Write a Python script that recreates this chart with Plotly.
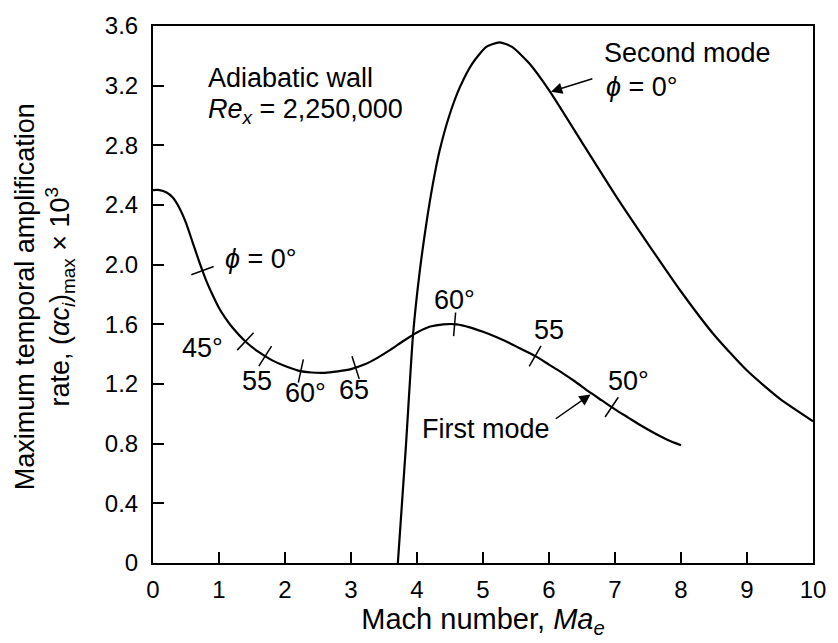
import numpy as np
import plotly.graph_objects as go

# ---- data ----
first_mach = [0.0, 0.1, 0.2, 0.3, 0.4, 0.5, 0.6, 0.7, 0.8, 0.9, 1.0, 1.1, 1.2, 1.4, 1.6, 1.8, 2.0, 2.2,
              2.4, 2.6, 2.8, 3.0, 3.2, 3.4, 3.6, 3.8, 4.0, 4.2, 4.4, 4.6, 4.8, 5.0, 5.2, 5.4, 5.6, 5.8,
              6.0, 6.2, 6.4, 6.6, 6.8, 7.0, 7.2, 7.4, 7.6, 7.8, 8.0]
first_rate = [2.50, 2.50, 2.485, 2.45, 2.38, 2.28, 2.15, 2.02, 1.90, 1.80, 1.71, 1.64, 1.58, 1.485, 1.415,
              1.36, 1.32, 1.29, 1.277, 1.275, 1.285, 1.30, 1.33, 1.375, 1.43, 1.49, 1.545, 1.585, 1.60,
              1.60, 1.58, 1.55, 1.515, 1.475, 1.43, 1.385, 1.33, 1.275, 1.215, 1.15, 1.09, 1.03, 0.975,
              0.92, 0.87, 0.825, 0.79]

second_mach = [3.71, 3.83, 3.94, 4.04, 4.15, 4.24, 4.34, 4.49, 4.65, 4.84, 5.05, 5.25, 5.44, 5.70, 6.0,
               6.5, 7.0, 7.5, 8.0, 8.5, 9.0, 9.5, 10.0]
second_rate = [0.0, 0.77, 1.53, 1.95, 2.30, 2.54, 2.76, 3.00, 3.19, 3.35, 3.46, 3.49, 3.46, 3.35, 3.17,
               2.82, 2.47, 2.14, 1.82, 1.53, 1.29, 1.10, 0.95]

angle_mach = [0.75, 1.40, 1.70, 2.24, 3.07, 4.57, 5.79, 6.95]
angle_rate = [1.96, 1.485, 1.387, 1.287, 1.31, 1.60, 1.387, 1.045]
angle_text = ["<i>\u03d5</i> = 0\u00b0", "45\u00b0", "55", "60\u00b0", "65", "60\u00b0", "55", "50\u00b0"]

x_ticks = list(range(0, 11))
y_ticks = [0, 0.4, 0.8, 1.2, 1.6, 2.0, 2.4, 2.8, 3.2, 3.6]
y_tick_text = ["0", "0.4", "0.8", "1.2", "1.6", "2.0", "2.4", "2.8", "3.2", "3.6"]

FONT = "Liberation Sans, Arial, Helvetica, sans-serif"
ANN = 27

# figure geometry
W, H = 838, 643
ML, MR, MT, MB = 153, 23, 15, 80
px_per_x = (W - ML - MR) / 10.0
px_per_y = (H - MT - MB) / 3.6

# tick-mark orientation perpendicular to the first-mode curve
fm = np.array(first_mach)
fr = np.array(first_rate)
slope = np.gradient(fr, fm)
tick_slope = np.interp(angle_mach, fm, slope)
tick_angle = np.degrees(np.arctan2(-tick_slope * px_per_y, px_per_x))

fig = go.Figure()
fig.add_trace(go.Scatter(x=first_mach, y=first_rate, mode="lines",
                         line=dict(color="black", width=2.2, shape="spline", smoothing=0.6),
                         hoverinfo="skip", showlegend=False))
fig.add_trace(go.Scatter(x=second_mach, y=second_rate, mode="lines",
                         line=dict(color="black", width=2.2, shape="spline", smoothing=0.6),
                         hoverinfo="skip", showlegend=False))
fig.add_trace(go.Scatter(x=angle_mach, y=angle_rate, mode="markers",
                         marker=dict(symbol="line-ns", size=17, angle=list(tick_angle),
                                     line=dict(color="black", width=1.5)),
                         hoverinfo="skip", showlegend=False))

# angle labels (label positions in data coordinates)
label_pos = [(1.63, 2.04), (0.75, 1.44), (1.58, 1.22), (2.31, 1.14), (3.05, 1.16),
             (4.57, 1.76), (6.00, 1.56), (7.21, 1.22)]
for (lx, ly), t in zip(label_pos, angle_text):
    fig.add_annotation(x=lx, y=ly, text=t, showarrow=False,
                       font=dict(size=ANN, color="black", family=FONT))

# text blocks
fig.add_annotation(x=0.81, y=3.25, text="Adiabatic wall", showarrow=False, xanchor="left",
                   font=dict(size=ANN, color="black", family=FONT))
fig.add_annotation(x=0.81, y=3.03, text="<i>Re<sub>x</sub></i> = 2,250,000", showarrow=False,
                   xanchor="left", font=dict(size=ANN, color="black", family=FONT))
fig.add_annotation(x=6.81, y=3.42, text="Second mode", showarrow=False, xanchor="left",
                   font=dict(size=ANN, color="black", family=FONT))
fig.add_annotation(x=6.83, y=3.19, text="<i>\u03d5</i> = 0\u00b0", showarrow=False, xanchor="left",
                   font=dict(size=ANN, color="black", family=FONT))
fig.add_annotation(x=5.05, y=0.90, text="First mode", showarrow=False,
                   font=dict(size=ANN, color="black", family=FONT))

# arrows
fig.add_annotation(x=6.03, y=3.16, ax=6.68, ay=3.25, xref="x", yref="y", axref="x", ayref="y",
                   showarrow=True, arrowhead=2, arrowsize=1.5, arrowwidth=1.5, arrowcolor="black", text="")
fig.add_annotation(x=6.63, y=1.13, ax=6.08, ay=0.96, xref="x", yref="y", axref="x", ayref="y",
                   showarrow=True, arrowhead=2, arrowsize=1.5, arrowwidth=1.5, arrowcolor="black", text="")

fig.update_layout(
    width=W, height=H,
    margin=dict(l=ML, r=MR, t=MT, b=MB),
    paper_bgcolor="white", plot_bgcolor="white",
    font=dict(family=FONT, color="black", size=24),
    showlegend=False,
)
fig.update_xaxes(range=[0, 10], tickmode="array", tickvals=x_ticks, ticktext=[str(v) for v in x_ticks],
                 ticks="inside", ticklen=11, tickwidth=1.5, tickcolor="black",
                 showline=True, linecolor="black", linewidth=2, mirror=True, showgrid=False, zeroline=False,
                 tickfont=dict(size=24), ticklabelstandoff=4,
                 title=dict(text="Mach number, <i>Ma<sub>e</sub></i>", font=dict(size=29), standoff=2))
fig.update_yaxes(range=[0, 3.6], tickmode="array", tickvals=y_ticks, ticktext=y_tick_text,
                 ticks="inside", ticklen=11, tickwidth=1.5, tickcolor="black",
                 showline=True, linecolor="black", linewidth=2,
                 mirror=True, showgrid=False, zeroline=False, tickfont=dict(size=24), ticklabelstandoff=8)

fig.add_annotation(xref="paper", yref="paper", x=-0.165, y=0.495, xanchor="center", yanchor="middle",
                   text="Maximum temporal amplification<br>rate, (<i>\u03b1c<sub>i</sub></i>)<sub>max</sub> \u00d7 10<sup>3</sup>",
                   textangle=-90, showarrow=False, font=dict(size=27, color="black", family=FONT))

fig.write_html("out.html")
